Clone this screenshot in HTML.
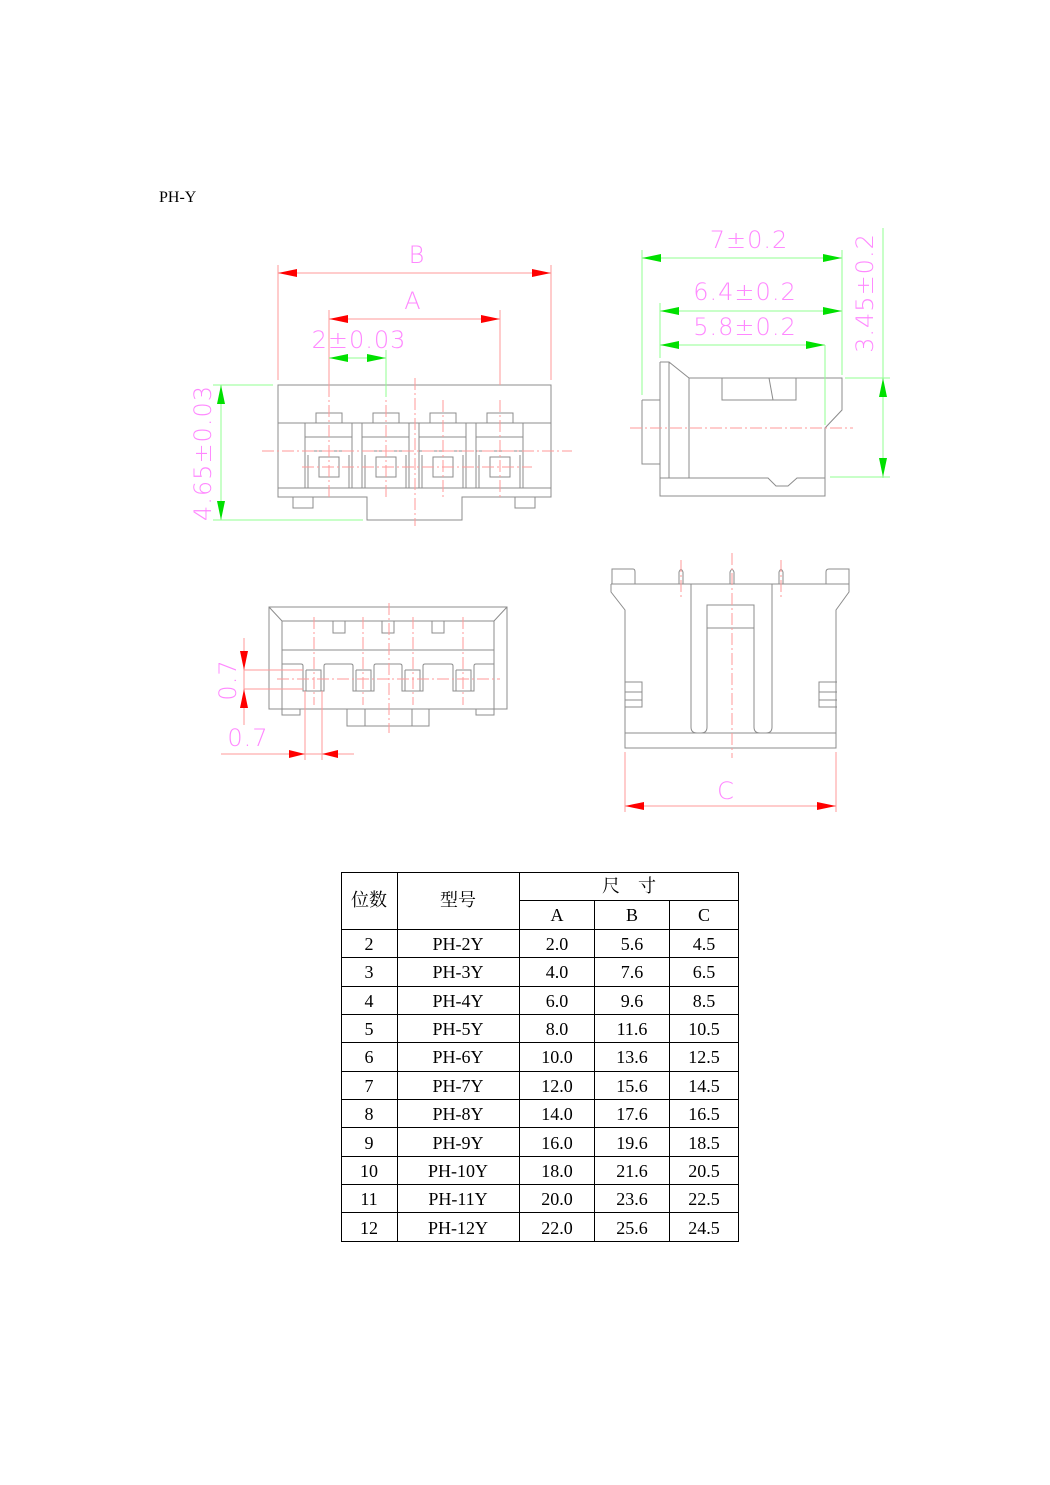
<!DOCTYPE html>
<html><head><meta charset="utf-8"><style>
html,body{margin:0;padding:0;background:#fff}
svg{display:block}
.o{stroke:#8c8c8c;stroke-width:1;fill:none}
.c{stroke:#ff9a9a;stroke-width:1;fill:none;stroke-dasharray:12 3 2 3}
.r{stroke:#ff9a9a;stroke-width:1;fill:none}
.g{stroke:#90ff90;stroke-width:1;fill:none}
.ra{fill:#ff0000}
.ga{fill:#00e000}
.d{font-family:"DejaVu Sans",sans-serif;font-weight:200;font-size:24px;fill:#ff88ff;letter-spacing:1px}
.t{font-family:"Liberation Serif","Noto Serif CJK SC",serif;font-size:18px;fill:#000}
.tb{stroke:#000;stroke-width:1;fill:none}
</style></head><body>
<svg width="1050" height="1485" viewBox="0 0 1050 1485" xmlns="http://www.w3.org/2000/svg">
<text x="159" y="202" class="t" style="font-size:16px">PH-Y</text>

<!-- VIEW 1 -->
<g>
<path class="o" d="M278 385H551V497H462V520H367V497H278Z M278 423H551 M278 488H551 M293 497V508H313V497 M515 497V508H535V497"/>
<g id="u">
<path class="o" d="M305 423V488 M352 423V488 M305 437H352 M305 451H352 M308 455V488 M349 455V488 M316 423V413H342V423 M319 457H339V477H319Z"/>
</g>
<use href="#u" x="57"/><use href="#u" x="114"/><use href="#u" x="171"/>
<path class="c" d="M329 385V497 M386 365V497 M443 400V497 M500 400V497 M415 378V526 M262 451H572 M302 467H532"/>
<path class="r" d="M278 265V380 M551 265V380 M278 273H551 M329 310V385 M500 310V385 M329 319H500"/>
<polygon class="ra" points="278,273 297,269 297,277"/><polygon class="ra" points="551,273 532,269 532,277"/>
<polygon class="ra" points="329,319 348,315 348,323"/><polygon class="ra" points="500,319 481,315 481,323"/>
<text x="417" y="263" class="d" text-anchor="middle">B</text>
<text x="413" y="309" class="d" text-anchor="middle">A</text>
<path class="g" d="M386 350V397 M329 358H386 M213 385H273 M213 520H363 M221 385V520"/>
<polygon class="ga" points="329,358 348,354 348,362"/><polygon class="ga" points="386,358 367,354 367,362"/>
<polygon class="ga" points="221,385 217,404 225,404"/><polygon class="ga" points="221,520 217,501 225,501"/>
<text x="359" y="348" class="d" text-anchor="middle">2±0.03</text>
<text transform="translate(211,453) rotate(-90)" class="d" text-anchor="middle">4.65±0.03</text>
</g>

<!-- VIEW 2 -->
<g>
<path class="o" d="M660 362H669L689 378H842V410L825 428V496H660V478 M660 362V478 M642 400H660 M642 400V464H660 M660 478H768L776 486H788L797 478H825 M669 362V478 M689 378V478 M722 378V400H796V378 M769 378L773 400"/>
<path class="c" d="M630 428H853"/>
<path class="g" d="M642 250V395 M842 250V375 M642 258H842 M660 303V358 M660 311H842 M660 345H825 M825 345V425 M883 228V478 M845 378H890 M830 477H890"/>
<polygon class="ga" points="642,258 661,254 661,262"/><polygon class="ga" points="842,258 823,254 823,262"/>
<polygon class="ga" points="660,311 679,307 679,315"/><polygon class="ga" points="842,311 823,307 823,315"/>
<polygon class="ga" points="660,345 679,341 679,349"/><polygon class="ga" points="825,345 806,341 806,349"/>
<polygon class="ga" points="883,378 879,397 887,397"/><polygon class="ga" points="883,477 879,458 887,458"/>
<text x="749" y="248" class="d" text-anchor="middle">7±0.2</text>
<text x="745" y="300" class="d" text-anchor="middle">6.4±0.2</text>
<text x="745" y="335" class="d" text-anchor="middle">5.8±0.2</text>
<text transform="translate(873,293) rotate(-90)" class="d" text-anchor="middle">3.45±0.2</text>
</g>

<!-- VIEW 3 -->
<g>
<path class="o" d="M269 607H507V709H269Z M269 607L282 621H494L507 607 M282 621V709 M494 621V709 M282 650H494 M333 621V633H345V621 M382 621V633H394V621 M432 621V633H444V621
M282 664H301Q303 664 303 666V691H324V666Q324 664 326 664H351Q353 664 353 666V691H374V666Q374 664 376 664H400Q402 664 402 666V691H423V666Q423 664 425 664H451Q453 664 453 666V691H474V666Q474 664 476 664H494
M306 670H321V691 M306 670V691 M356 670H371V691 M356 670V691 M405 670H420V691 M405 670V691 M456 670H471V691 M456 670V691
M282 709V715H300V709 M476 709V715H494V709 M347 709V726H429V709 M365 709V726 M412 709V726"/>
<path class="c" d="M314 617V705 M363 617V705 M413 617V705 M463 617V705 M389 603V733 M277 679H500"/>
<path class="r" d="M244 638V725 M244 670H303 M244 689H303 M221 754H354 M305 691V760 M322 691V760"/>
<polygon class="ra" points="244,670 240,651 248,651"/><polygon class="ra" points="244,689 240,708 248,708"/>
<polygon class="ra" points="305,754 289,750 289,758"/><polygon class="ra" points="322,754 338,750 338,758"/>
<text transform="translate(236,680) rotate(-90)" class="d" text-anchor="middle">0.7</text>
<text x="248" y="746" class="d" text-anchor="middle">0.7</text>
</g>

<!-- VIEW 4 -->
<g>
<path class="o" d="M612 584V569H633Q635 569 635 572V584 M826 584V572Q826 569 829 569H849V584 M611 584H849 M611 584V592L625 610V748H836V610L849 592V584 M625 733H836
M679 584V572Q681 567 683 572V584 M730 584V572Q732 567 734 572V584 M779 584V572Q781 567 783 572V584
M691 584V727Q691 733 697 733H701Q707 733 707 727V605H754V727Q754 733 760 733H766Q772 733 772 727V584 M707 628H754
M625 682H642V707H625 M625 692H642 M625 700H642 M837 682H819V707H837 M819 692H837 M819 700H837"/>
<path class="c" d="M732 553V758 M681 560V597 M781 560V597"/>
<path class="r" d="M625 752V812 M836 752V812 M625 806H836"/>
<polygon class="ra" points="625,806 644,802 644,810"/><polygon class="ra" points="836,806 817,802 817,810"/>
<text x="726" y="799" class="d" text-anchor="middle">C</text>
</g>

<!-- TABLE -->
<g>
<path class="tb" d="M341.5 872.5H738.5V1241.5H341.5Z M519.5 900.5H738.5 M341.5 929.5H738.5 M397.5 872.5V1241.5 M519.5 872.5V1241.5 M594.5 900.5V1241.5 M669.5 900.5V1241.5
M341.5 957.5H738.5 M341.5 986.5H738.5 M341.5 1014.5H738.5 M341.5 1042.5H738.5 M341.5 1071.5H738.5 M341.5 1099.5H738.5 M341.5 1127.5H738.5 M341.5 1156.5H738.5 M341.5 1184.5H738.5 M341.5 1212.5H738.5"/>
<g class="t" text-anchor="middle">
<text x="369" y="906">位数</text><text x="458" y="906">型号</text><text x="629" y="892">尺　寸</text>
<text x="557" y="921">A</text><text x="632" y="921">B</text><text x="704" y="921">C</text>
<text x="369" y="950">2</text><text x="458" y="950">PH-2Y</text><text x="557" y="950">2.0</text><text x="632" y="950">5.6</text><text x="704" y="950">4.5</text>
<text x="369" y="978">3</text><text x="458" y="978">PH-3Y</text><text x="557" y="978">4.0</text><text x="632" y="978">7.6</text><text x="704" y="978">6.5</text>
<text x="369" y="1007">4</text><text x="458" y="1007">PH-4Y</text><text x="557" y="1007">6.0</text><text x="632" y="1007">9.6</text><text x="704" y="1007">8.5</text>
<text x="369" y="1035">5</text><text x="458" y="1035">PH-5Y</text><text x="557" y="1035">8.0</text><text x="632" y="1035">11.6</text><text x="704" y="1035">10.5</text>
<text x="369" y="1063">6</text><text x="458" y="1063">PH-6Y</text><text x="557" y="1063">10.0</text><text x="632" y="1063">13.6</text><text x="704" y="1063">12.5</text>
<text x="369" y="1092">7</text><text x="458" y="1092">PH-7Y</text><text x="557" y="1092">12.0</text><text x="632" y="1092">15.6</text><text x="704" y="1092">14.5</text>
<text x="369" y="1120">8</text><text x="458" y="1120">PH-8Y</text><text x="557" y="1120">14.0</text><text x="632" y="1120">17.6</text><text x="704" y="1120">16.5</text>
<text x="369" y="1149">9</text><text x="458" y="1149">PH-9Y</text><text x="557" y="1149">16.0</text><text x="632" y="1149">19.6</text><text x="704" y="1149">18.5</text>
<text x="369" y="1177">10</text><text x="458" y="1177">PH-10Y</text><text x="557" y="1177">18.0</text><text x="632" y="1177">21.6</text><text x="704" y="1177">20.5</text>
<text x="369" y="1205">11</text><text x="458" y="1205">PH-11Y</text><text x="557" y="1205">20.0</text><text x="632" y="1205">23.6</text><text x="704" y="1205">22.5</text>
<text x="369" y="1234">12</text><text x="458" y="1234">PH-12Y</text><text x="557" y="1234">22.0</text><text x="632" y="1234">25.6</text><text x="704" y="1234">24.5</text>
</g>
</g>
</svg>
</body></html>
